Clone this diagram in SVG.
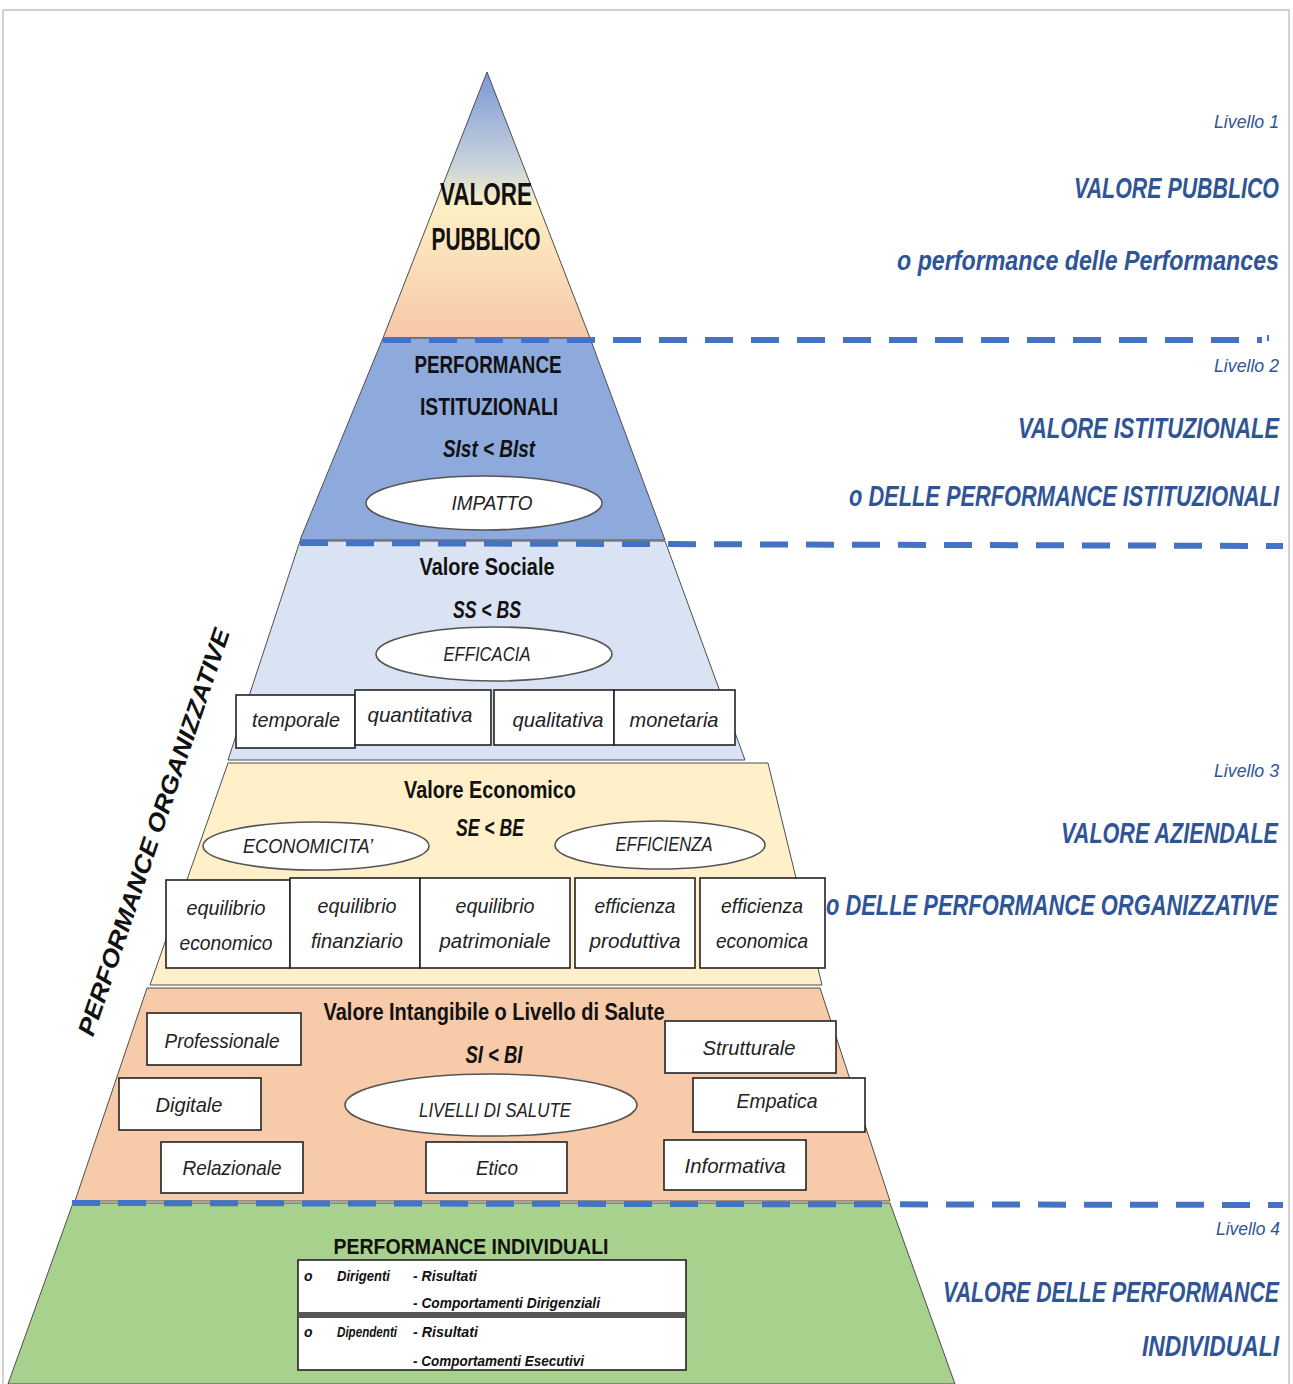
<svg xmlns="http://www.w3.org/2000/svg" width="1293" height="1384" viewBox="0 0 1293 1384">
<defs>
<linearGradient id="gTop" x1="0" y1="72" x2="0" y2="338" gradientUnits="userSpaceOnUse">
<stop offset="0" stop-color="#7b98d6"/>
<stop offset="0.35" stop-color="#c9d3dc"/>
<stop offset="0.5" stop-color="#fdefc4"/>
<stop offset="0.75" stop-color="#fbdcb6"/>
<stop offset="1" stop-color="#f6c7a8"/>
</linearGradient>
<style>
.band{stroke:#4d4d4d;stroke-width:1}
.dash{stroke:#4472c4;stroke-width:6;stroke-dasharray:28 18;fill:none}
.rt{font-family:"Liberation Sans",Arial,sans-serif;font-style:italic;font-weight:bold;fill:#2f5597;text-anchor:end}
.lv{font-family:"Liberation Sans",Arial,sans-serif;font-style:italic;fill:#2f5597;text-anchor:end;font-size:19px}
.pt{font-family:"Liberation Sans",Arial,sans-serif;font-weight:bold;fill:#111;text-anchor:middle}
.pi{font-family:"Liberation Sans",Arial,sans-serif;font-weight:bold;font-style:italic;fill:#111;text-anchor:middle}
.bx{fill:#fff;stroke:#222;stroke-width:1.6}
.el{fill:#fff;stroke:#555;stroke-width:1.6}
.bt{font-family:"Liberation Sans",Arial,sans-serif;font-style:italic;fill:#222;text-anchor:middle;font-size:21px}
.st{font-family:"Liberation Sans",Arial,sans-serif;font-style:italic;font-weight:bold;fill:#111;font-size:14px}
</style>
</defs>
<rect x="0" y="0" width="1293" height="1384" fill="#fff"/>
<rect x="3" y="10" width="1286" height="1380" fill="none" stroke="#c4c4c4" stroke-width="1.5"/>

<g id="pyramid">
<polygon id="band-top" class="band" points="487,72 590,338 383,338" fill="url(#gTop)"/>
<polygon id="band-ist" class="band" points="383,338 590,338 665,540 300,540" fill="#8eaadc"/>
<polygon id="band-soc" class="band" points="300,541 665,541 745,760 228,760" fill="#dae3f3"/>
<polygon id="band-eco" class="band" points="228,763 768,763 822,985 150,985" fill="#fff0c9"/>
<polygon id="band-int" class="band" points="147,988 820,988 890,1201 75,1201" fill="#f7caa9"/>
<polygon id="band-ind" class="band" points="73,1203 890,1203 955,1384 8,1384" fill="#a9d18e"/>
</g>

<g id="connectors">
<line class="dash" x1="383" y1="340" x2="1262" y2="340"/>
<line x1="1268" y1="335" x2="1268" y2="341" stroke="#4472c4" stroke-width="2"/>
<line class="dash" x1="300" y1="543" x2="1283" y2="546"/>
<line class="dash" x1="72" y1="1203" x2="1283" y2="1205"/>
</g>

<g id="labels-right">
<text class="lv" x="1279" y="128" textLength="65" lengthAdjust="spacingAndGlyphs">Livello 1</text>
<text class="rt" x="1279" y="198" font-size="30" textLength="205" lengthAdjust="spacingAndGlyphs">VALORE PUBBLICO</text>
<text class="rt" x="1279" y="270" font-size="27" textLength="382" lengthAdjust="spacingAndGlyphs">o performance delle Performances</text>
<text class="lv" x="1279" y="372" textLength="65" lengthAdjust="spacingAndGlyphs">Livello 2</text>
<text class="rt" x="1279" y="438" font-size="30" textLength="261" lengthAdjust="spacingAndGlyphs">VALORE ISTITUZIONALE</text>
<text class="rt" x="1279" y="506" font-size="30" textLength="430" lengthAdjust="spacingAndGlyphs">o DELLE PERFORMANCE ISTITUZIONALI</text>
<text class="lv" x="1279" y="777" textLength="65" lengthAdjust="spacingAndGlyphs">Livello 3</text>
<text class="rt" x="1278" y="843" font-size="30" textLength="217" lengthAdjust="spacingAndGlyphs">VALORE AZIENDALE</text>
<text class="rt" x="1278" y="915" font-size="30" textLength="452" lengthAdjust="spacingAndGlyphs">o DELLE PERFORMANCE ORGANIZZATIVE</text>
<text class="lv" x="1280" y="1235" textLength="64" lengthAdjust="spacingAndGlyphs">Livello 4</text>
<text class="rt" x="1279" y="1302" font-size="30" textLength="336" lengthAdjust="spacingAndGlyphs">VALORE DELLE PERFORMANCE</text>
<text class="rt" x="1279" y="1356" font-size="30" textLength="137" lengthAdjust="spacingAndGlyphs">INDIVIDUALI</text>
</g>

<g id="side-label">
<text class="pi" transform="translate(153,832) rotate(-71.3)" x="0" y="9" font-size="24" textLength="428" lengthAdjust="spacingAndGlyphs">PERFORMANCE ORGANIZZATIVE</text>
</g>

<g id="node-valore-pubblico">
<text class="pt" x="486" y="205" font-size="31" textLength="92" lengthAdjust="spacingAndGlyphs">VALORE</text>
<text class="pt" x="486" y="250" font-size="31" textLength="109" lengthAdjust="spacingAndGlyphs">PUBBLICO</text>
</g>

<g id="node-istituzionali">
<text class="pt" x="488" y="373" font-size="24" textLength="147" lengthAdjust="spacingAndGlyphs">PERFORMANCE</text>
<text class="pt" x="489" y="415" font-size="24" textLength="138" lengthAdjust="spacingAndGlyphs">ISTITUZIONALI</text>
<text class="pi" x="489" y="457" font-size="24" textLength="92" lengthAdjust="spacingAndGlyphs">SIst &lt; BIst</text>
<ellipse class="el" cx="484" cy="503" rx="118" ry="27"/>
<text class="bt" x="492" y="510" font-size="22" textLength="81" lengthAdjust="spacingAndGlyphs">IMPATTO</text>
</g>

<g id="node-sociale">
<text class="pt" x="487" y="575" font-size="24" textLength="135" lengthAdjust="spacingAndGlyphs">Valore Sociale</text>
<text class="pi" x="487" y="618" font-size="24" textLength="68" lengthAdjust="spacingAndGlyphs">SS &lt; BS</text>
<ellipse class="el" cx="494" cy="654" rx="118" ry="27"/>
<text class="bt" x="487" y="661" font-size="22" textLength="87" lengthAdjust="spacingAndGlyphs">EFFICACIA</text>
<rect class="bx" x="236" y="695" width="119" height="53"/>
<rect class="bx" x="355" y="690" width="136" height="55"/>
<rect class="bx" x="494" y="690" width="120" height="55"/>
<rect class="bx" x="614" y="690" width="121" height="55"/>
<text class="bt" x="296" y="727" textLength="88" lengthAdjust="spacingAndGlyphs">temporale</text>
<text class="bt" x="420" y="722" textLength="105" lengthAdjust="spacingAndGlyphs">quantitativa</text>
<text class="bt" x="558" y="727" textLength="91" lengthAdjust="spacingAndGlyphs">qualitativa</text>
<text class="bt" x="674" y="727" textLength="89" lengthAdjust="spacingAndGlyphs">monetaria</text>
</g>

<g id="node-economico">
<text class="pt" x="490" y="798" font-size="24" textLength="172" lengthAdjust="spacingAndGlyphs">Valore Economico</text>
<text class="pi" x="490" y="836" font-size="24" textLength="68" lengthAdjust="spacingAndGlyphs">SE &lt; BE</text>
<ellipse class="el" cx="316" cy="846" rx="113" ry="24"/>
<text class="bt" x="308" y="853" textLength="130" lengthAdjust="spacingAndGlyphs">ECONOMICITA’</text>
<ellipse class="el" cx="660" cy="845" rx="105" ry="24"/>
<text class="bt" x="664" y="851" textLength="97" lengthAdjust="spacingAndGlyphs">EFFICIENZA</text>
<rect class="bx" x="166" y="880" width="124" height="88"/>
<rect class="bx" x="290" y="878" width="130" height="90"/>
<rect class="bx" x="420" y="878" width="150" height="90"/>
<rect class="bx" x="575" y="878" width="120" height="90"/>
<rect class="bx" x="700" y="878" width="125" height="90"/>
<text class="bt" x="226" y="915" textLength="79" lengthAdjust="spacingAndGlyphs">equilibrio</text>
<text class="bt" x="226" y="950" textLength="93" lengthAdjust="spacingAndGlyphs">economico</text>
<text class="bt" x="357" y="913" textLength="79" lengthAdjust="spacingAndGlyphs">equilibrio</text>
<text class="bt" x="357" y="948" textLength="92" lengthAdjust="spacingAndGlyphs">finanziario</text>
<text class="bt" x="495" y="913" textLength="79" lengthAdjust="spacingAndGlyphs">equilibrio</text>
<text class="bt" x="495" y="948" textLength="111" lengthAdjust="spacingAndGlyphs">patrimoniale</text>
<text class="bt" x="635" y="913" textLength="81" lengthAdjust="spacingAndGlyphs">efficienza</text>
<text class="bt" x="635" y="948" textLength="91" lengthAdjust="spacingAndGlyphs">produttiva</text>
<text class="bt" x="762" y="913" textLength="82" lengthAdjust="spacingAndGlyphs">efficienza</text>
<text class="bt" x="762" y="948" textLength="92" lengthAdjust="spacingAndGlyphs">economica</text>
</g>

<g id="node-intangibile">
<text class="pt" x="494" y="1020" font-size="24" textLength="341" lengthAdjust="spacingAndGlyphs">Valore Intangibile o Livello di Salute</text>
<text class="pi" x="494" y="1063" font-size="24" textLength="57" lengthAdjust="spacingAndGlyphs">SI &lt; BI</text>
<ellipse class="el" cx="491" cy="1105" rx="146" ry="31"/>
<text class="bt" x="495" y="1117" textLength="152" lengthAdjust="spacingAndGlyphs">LIVELLI DI SALUTE</text>
<rect class="bx" x="147" y="1013" width="154" height="52"/>
<text class="bt" x="222" y="1048" textLength="115" lengthAdjust="spacingAndGlyphs">Professionale</text>
<rect class="bx" x="665" y="1021" width="171" height="52"/>
<text class="bt" x="749" y="1055" textLength="93" lengthAdjust="spacingAndGlyphs">Strutturale</text>
<rect class="bx" x="119" y="1078" width="142" height="52"/>
<text class="bt" x="189" y="1112" textLength="67" lengthAdjust="spacingAndGlyphs">Digitale</text>
<rect class="bx" x="693" y="1078" width="172" height="54"/>
<text class="bt" x="777" y="1108" textLength="81" lengthAdjust="spacingAndGlyphs">Empatica</text>
<rect class="bx" x="161" y="1142" width="142" height="51"/>
<text class="bt" x="232" y="1175" textLength="99" lengthAdjust="spacingAndGlyphs">Relazionale</text>
<rect class="bx" x="426" y="1142" width="141" height="51"/>
<text class="bt" x="497" y="1175" textLength="42" lengthAdjust="spacingAndGlyphs">Etico</text>
<rect class="bx" x="664" y="1140" width="142" height="50"/>
<text class="bt" x="735" y="1173" textLength="101" lengthAdjust="spacingAndGlyphs">Informativa</text>
</g>

<g id="node-individuali">
<text class="pt" x="471" y="1254" font-size="22" font-weight="600" textLength="275" lengthAdjust="spacingAndGlyphs">PERFORMANCE INDIVIDUALI</text>
<rect x="298" y="1260" width="388" height="110" fill="#fff" stroke="#222" stroke-width="1.6"/>
<rect x="298" y="1312" width="388" height="6" fill="#555"/>
<text class="st" x="304" y="1281">o</text>
<text class="st" x="337" y="1281" textLength="53" lengthAdjust="spacingAndGlyphs">Dirigenti</text>
<text class="st" x="413" y="1281" textLength="64" lengthAdjust="spacingAndGlyphs">- Risultati</text>
<text class="st" x="413" y="1308" textLength="187" lengthAdjust="spacingAndGlyphs">- Comportamenti Dirigenziali</text>
<text class="st" x="304" y="1337">o</text>
<text class="st" x="337" y="1337" textLength="60" lengthAdjust="spacingAndGlyphs">Dipendenti</text>
<text class="st" x="413" y="1337" textLength="65" lengthAdjust="spacingAndGlyphs">- Risultati</text>
<text class="st" x="413" y="1366" textLength="171" lengthAdjust="spacingAndGlyphs">- Comportamenti Esecutivi</text>
</g>
</svg>
